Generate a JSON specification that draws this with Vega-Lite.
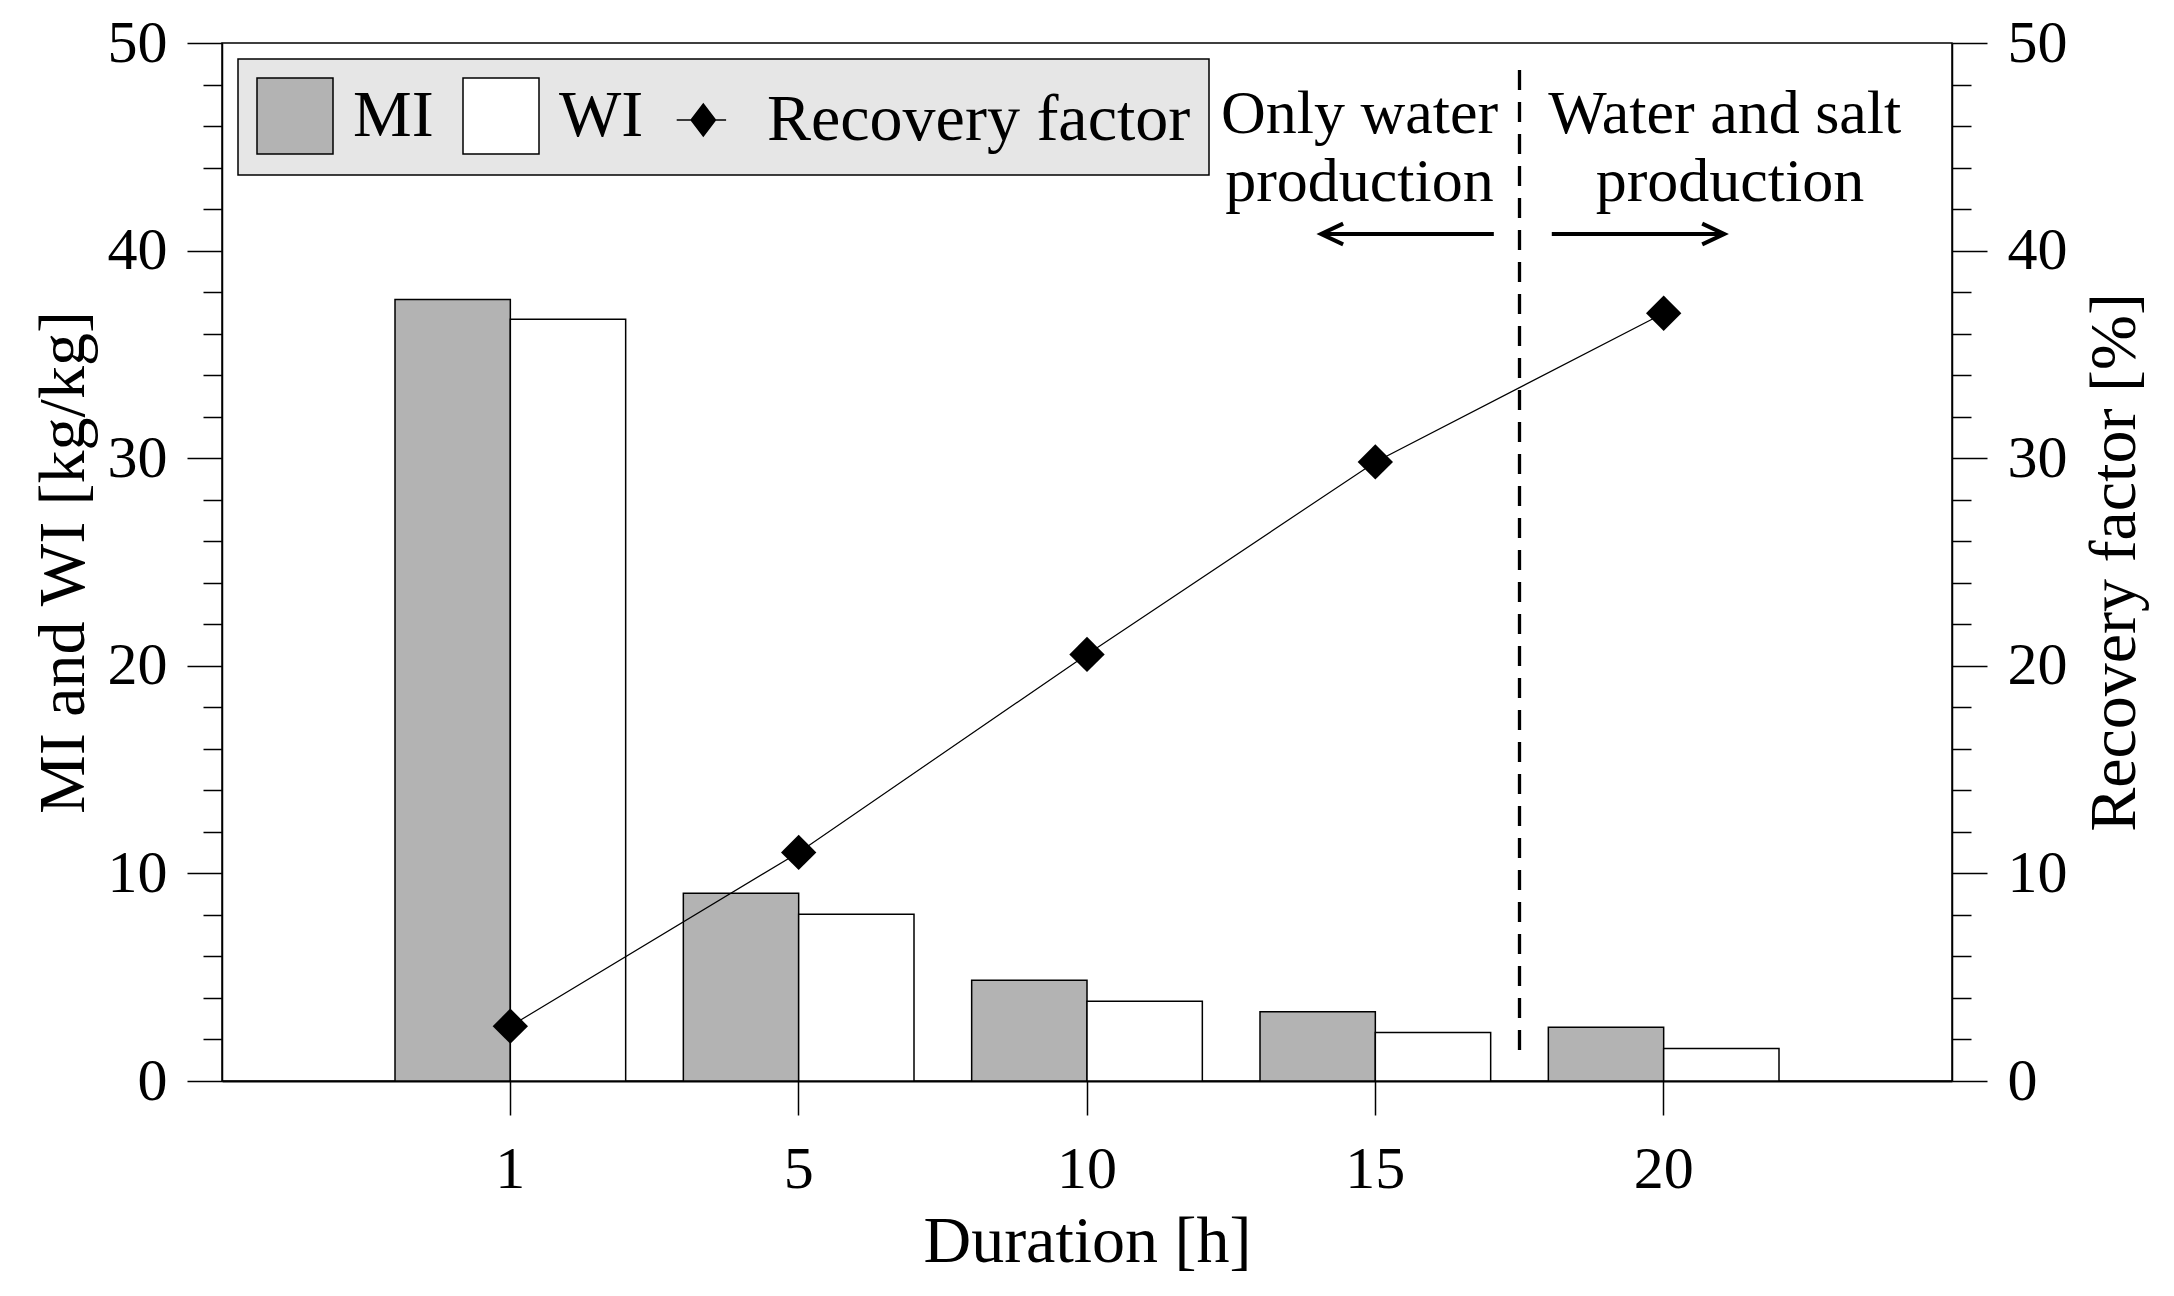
{
  "$schema": "https://vega.github.io/schema/vega-lite/v6.json",
  "width": 1730,
  "height": 1038,
  "autosize": {"type": "none"},
  "padding": {"left": 222, "top": 43, "right": 222, "bottom": 215},
  "background": "white",
  "config": {
    "font": "Liberation Serif",
    "view": {"stroke": "black", "strokeWidth": 1.5},
    "axis": {
      "labelFont": "Liberation Serif",
      "titleFont": "Liberation Serif",
      "labelColor": "black",
      "titleColor": "black",
      "tickColor": "black",
      "domainColor": "black",
      "titleFontWeight": "normal",
      "grid": false
    }
  },
  "datasets": {
    "bars": [
      {"duration": "1", "index": "MI", "value": 37.65},
      {"duration": "1", "index": "WI", "value": 36.69},
      {"duration": "5", "index": "MI", "value": 9.04},
      {"duration": "5", "index": "WI", "value": 8.03},
      {"duration": "10", "index": "MI", "value": 4.85},
      {"duration": "10", "index": "WI", "value": 3.84},
      {"duration": "15", "index": "MI", "value": 3.34},
      {"duration": "15", "index": "WI", "value": 2.34},
      {"duration": "20", "index": "MI", "value": 2.59},
      {"duration": "20", "index": "WI", "value": 1.57}
    ],
    "recovery": [
      {"duration": "1", "rf": 2.64},
      {"duration": "5", "rf": 11.01},
      {"duration": "10", "rf": 20.55},
      {"duration": "15", "rf": 29.82},
      {"duration": "20", "rf": 36.98}
    ],
    "divider": [{"pos": 4.5, "top": 48.7, "bottom": 1.0}],
    "arrows": [
      {"from": 4.411, "to": 3.812, "level": 40.8, "dir": "left"},
      {"from": 4.612, "to": 5.21, "level": 40.8, "dir": "right"}
    ],
    "notes": [
      {"pos": 3.945, "level": 45.66, "text": "Only water"},
      {"pos": 3.945, "level": 42.37, "text": "production"},
      {"pos": 5.212, "level": 45.66, "text": "Water and salt"},
      {"pos": 5.23, "level": 42.37, "text": "production"}
    ]
  },
  "layer": [
    {
      "data": {"name": "bars"},
      "mark": {"type": "bar", "stroke": "black", "strokeWidth": 1.5},
      "encoding": {
        "x": {
          "field": "duration",
          "type": "ordinal",
          "sort": ["1", "5", "10", "15", "20"],
          "scale": {"type": "band", "paddingInner": 0.2, "paddingOuter": 0.6},
          "title": "Duration [h]",
          "axis": {
            "labelAngle": 0,
            "labelFontSize": 60,
            "labelPadding": 25,
            "tickSize": 34,
            "tickWidth": 1.5,
            "domainWidth": 2,
            "titleFontSize": 66,
            "titlePadding": 10
          }
        },
        "xOffset": {
          "field": "index",
          "type": "nominal",
          "sort": ["MI", "WI"],
          "scale": {"paddingInner": 0, "paddingOuter": 0}
        },
        "y": {
          "field": "value",
          "type": "quantitative",
          "scale": {"domain": [0, 50], "nice": false},
          "title": "MI and WI [kg/kg]",
          "axis": {
            "values": [0, 2, 4, 6, 8, 10, 12, 14, 16, 18, 20, 22, 24, 26, 28, 30, 32, 34, 36, 38, 40, 42, 44, 46, 48, 50],
            "labelExpr": "datum.value % 10 === 0 ? datum.label : ''",
            "tickSize": {"condition": {"test": "datum.value % 10 === 0", "value": 35}, "value": 19},
            "labelOverlap": false,
            "labelPadding": 20,
            "labelFontSize": 60,
            "tickWidth": 1.5,
            "domainWidth": 1.5,
            "titleFontSize": 66,
            "titlePadding": 10
          }
        },
        "color": {
          "field": "index",
          "type": "nominal",
          "scale": {"domain": ["MI", "WI", "Recovery factor"], "range": ["#b3b3b3", "#ffffff", "#000000"]},
          "legend": {
            "orient": "top-left",
            "offset": 16,
            "direction": "horizontal",
            "title": null,
            "fillColor": "#e6e6e6",
            "strokeColor": "black",
            "padding": 18,
            "symbolType": "square",
            "symbolSize": 5776,
            "symbolStrokeColor": "black",
            "symbolStrokeWidth": 1.5,
            "symbolOpacity": 1,
            "labelFont": "Liberation Serif",
            "labelFontSize": 66,
            "labelColor": "black",
            "labelOffset": 19,
            "labelLimit": 0,
            "columnPadding": 26,
            "encode": {
              "symbols": {
                "update": {
                  "shape": {"signal": "datum.value === 'Recovery factor' ? 'M-0.85,0L0.45,0M-0.47,0L-0.15,-0.42L0.17,0L-0.15,0.42Z' : 'square'"},
                  "stroke": {"value": "black"},
                  "strokeWidth": {"value": 1.5}
                }
              },
              "legend": {"update": {"strokeWidth": {"value": 1.5}}}
            }
          }
        }
      }
    },
    {
      "data": {"name": "recovery"},
      "encoding": {
        "x": {
          "field": "duration",
          "type": "ordinal",
          "sort": ["1", "5", "10", "15", "20"],
          "scale": {"type": "band", "paddingInner": 0.2, "paddingOuter": 0.6},
          "axis": null
        },
        "y": {
          "field": "rf",
          "type": "quantitative",
          "scale": {"domain": [0, 50], "nice": false},
          "title": "Recovery factor [%]",
          "axis": {
            "orient": "right",
            "values": [0, 2, 4, 6, 8, 10, 12, 14, 16, 18, 20, 22, 24, 26, 28, 30, 32, 34, 36, 38, 40, 42, 44, 46, 48, 50],
            "labelExpr": "datum.value % 10 === 0 ? datum.label : ''",
            "tickSize": {"condition": {"test": "datum.value % 10 === 0", "value": 35}, "value": 19},
            "labelOverlap": false,
            "labelPadding": 20,
            "labelFontSize": 60,
            "tickWidth": 1.5,
            "domainWidth": 1.5,
            "titleFontSize": 66,
            "titleAngle": 270,
            "titleBaseline": "top",
            "titlePadding": 15
          }
        }
      },
      "layer": [
        {"mark": {"type": "line", "color": "black", "strokeWidth": 1.2}},
        {"mark": {"type": "point", "shape": "diamond", "filled": true, "color": "black", "size": 1250, "opacity": 1}}
      ]
    },
    {
      "layer": [
        {
          "data": {"name": "divider"},
          "mark": {"type": "rule", "color": "black", "strokeWidth": 3.3, "strokeDash": [20, 12]},
          "encoding": {
            "x": {"field": "pos", "type": "quantitative", "scale": {"domain": [0, 6]}, "axis": null},
            "y": {"field": "top", "type": "quantitative", "scale": {"domain": [0, 50], "nice": false}, "axis": null},
            "y2": {"field": "bottom"}
          }
        },
        {
          "data": {"name": "arrows"},
          "mark": {"type": "rule", "color": "black", "strokeWidth": 4},
          "encoding": {
            "x": {"field": "from", "type": "quantitative", "scale": {"domain": [0, 6]}, "axis": null},
            "x2": {"field": "to"},
            "y": {"field": "level", "type": "quantitative", "scale": {"domain": [0, 50], "nice": false}, "axis": null}
          }
        },
        {
          "data": {"name": "arrows"},
          "mark": {"type": "point", "filled": false, "color": "black", "strokeWidth": 4, "size": 1936, "opacity": 1},
          "encoding": {
            "x": {"field": "to", "type": "quantitative", "scale": {"domain": [0, 6]}, "axis": null},
            "y": {"field": "level", "type": "quantitative", "scale": {"domain": [0, 50], "nice": false}, "axis": null},
            "shape": {
              "field": "dir",
              "type": "nominal",
              "scale": {"domain": ["left", "right"], "range": ["M1,-0.47L0,0L1,0.47", "M-1,-0.47L0,0L-1,0.47"]},
              "legend": null
            }
          }
        },
        {
          "data": {"name": "notes"},
          "mark": {"type": "text", "font": "Liberation Serif", "fontSize": 62, "color": "black", "align": "center", "baseline": "alphabetic"},
          "encoding": {
            "x": {"field": "pos", "type": "quantitative", "scale": {"domain": [0, 6]}, "axis": null},
            "y": {"field": "level", "type": "quantitative", "scale": {"domain": [0, 50], "nice": false}, "axis": null},
            "text": {"field": "text"}
          }
        }
      ]
    }
  ],
  "resolve": {"scale": {"x": "independent", "y": "independent"}}
}
